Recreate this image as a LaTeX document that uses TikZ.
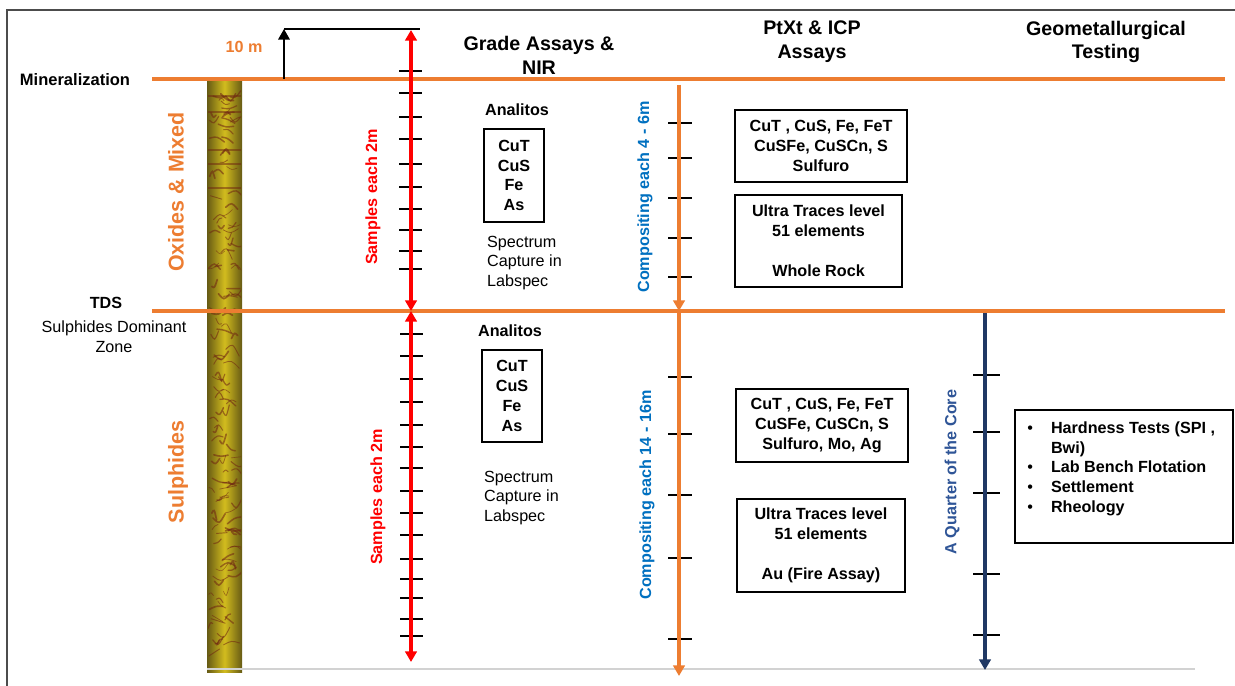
\documentclass[tikz,border=0pt]{standalone}
\usepackage{fontspec}
\setmainfont{Liberation Sans}
\usepackage{xcolor}
\usepackage{tikz}
\usetikzlibrary{arrows.meta}

\definecolor{orng}{HTML}{ED7D31}
\definecolor{compblue}{HTML}{0070C0}
\definecolor{navy}{HTML}{203864}
\definecolor{navytxt}{HTML}{2F5597}
\definecolor{coreyel}{HTML}{D2BC1E}
\definecolor{coredk}{HTML}{665A14}
\definecolor{streak}{HTML}{6E2412}

\tikzset{
  body/.style={font=\fontsize{9.2}{11.3}\selectfont\bfseries, align=center},
  plain/.style={font=\fontsize{9.2}{11.3}\selectfont},
  head/.style={font=\fontsize{11.2}{13.6}\selectfont\bfseries, align=center},
  zone/.style={font=\fontsize{12.2}{14}\selectfont\bfseries, text=orng, rotate=90},
  sidelab/.style={font=\fontsize{9.2}{11}\selectfont\bfseries, rotate=90},
  elembox/.style={draw, line width=0.9pt, body, inner sep=0pt},
  level/.style={orng, line width=2.2pt},
  hd/.tip={Triangle[length=6pt, width=6.5pt]},
}

\begin{document}
\begin{tikzpicture}[x=0.02cm, y=-0.02cm]
        \useasboundingbox (0,0) rectangle (1235,686);
        \fill[white] (0,0) rectangle (1235,686);
        \draw[gray!60!black, line width=0.9pt] (7,686) -- (7,10) -- (1235,10); % frame

        % drill core
        \shade[left color=coredk, right color=coredk, middle color=coreyel] (207,80) rectangle (242,672);
        \begin{scope}
            \clip (208,80) rectangle (241,672);
            \pgfmathsetseed{12}
            \foreach \k in {1,...,140} {
                \pgfmathsetmacro{\yy}{90+rnd*575}
                \pgfmathsetmacro{\xa}{208+rnd*24}
                \pgfmathsetmacro{\xb}{\xa+4+rnd*12}
                \pgfmathsetmacro{\xm}{(\xa+\xb)/2}
                \pgfmathsetmacro{\ya}{\yy+rand*7}
                \pgfmathsetmacro{\yb}{\yy+rand*7}
                \pgfmathsetmacro{\lw}{0.3+rnd*0.7}
                \draw[streak, line width=\lw pt, opacity=0.55, line cap=round] (\xa,\yy) .. controls (\xm,\ya) .. (\xb,\yb);
            }
            \foreach \y in {96,112,150,164,188} % bands in oxides
                \draw[streak, line width=0.8pt, opacity=0.5] (208,\y) -- (241,\y);
        \end{scope}
        \draw[gray!35, line width=1pt] (207,669) -- (1195,669);

        % levels
        \coordinate (minl) at (152,79);
        \coordinate (minr) at (1225,79);
        \coordinate (tdsl) at (152,311);
        \coordinate (tdsr) at (1225,311);
        \draw[level] (minl) -- (minr);
        \draw[level] (tdsl) -- (tdsr);

        \node[font=\fontsize{9.4}{11}\selectfont\bfseries] (minlab) at (75,80) {Mineralization};
        \node[body] (tds) at (106,303) {TDS};
        \node[plain, align=center] (sdz) at (114,337) {Sulphides Dominant\\Zone};
        \node[zone] (oxlab) at (176,192) {Oxides \& Mixed};
        \node[zone] (sulab) at (178,472) {Sulphides};

        % 10 m mark
        \node[body, text=orng] (tenm) at (244,47) {10 m};
        \coordinate (tenbot) at (284,79);
        \coordinate (tentop) at (284,29);
        \coordinate (tenend) at (420,29);
        \draw[line width=1pt, -hd] (tenbot) -- (tentop);
        \draw[line width=1pt] (tentop) -- (tenend);

        % samples each 2m
        \coordinate (sa) at (411,30);
        \coordinate (sb) at (411,311);
        \coordinate (sc) at (411,662);
        \foreach \y in {71,93,117,139,164,187,209,230,251,269}
            \draw[line width=1.1pt] (399,\y) -- (422,\y);
        \foreach \y in {334,356,379,402,425,447,468,491,513,535,559,579,598,619,636}
            \draw[line width=1.1pt] (400,\y) -- (423,\y);
        \draw[red, line width=2.1pt, hd-hd] (sa) -- (sb);
        \draw[red, line width=2.1pt, hd-hd] (sb) -- (sc);
        \node[sidelab, text=red] (samp1) at (373,197) {Samples each 2m};
        \node[sidelab, text=red] (samp2) at (378,497) {Samples each 2m};

        % headers
        \node[head] (gradehd) at (539,55) {Grade Assays \&\\NIR};
        \node[head] (icphd) at (812,42) {PtXt \& ICP\\Assays};
        \node[head] (geohd) at (1106,42) {Geometallurgical\\Testing};

        % grade assays
        \node[body] (anal1) at (517,110) {Analitos};
        \node[elembox, minimum width=1.2cm, minimum height=1.86cm] (elem1) at (514,175.5) {CuT\\CuS\\Fe\\As};
        \node[plain, align=left, anchor=west] (spec1) at (481,263) {Spectrum\\Capture in\\Labspec};
        \node[body] (anal2) at (510,331) {Analitos};
        \node[elembox, minimum width=1.2cm, minimum height=1.84cm] (elem2) at (512,396) {CuT\\CuS\\Fe\\As};
        \node[plain, align=left, anchor=west] (spec2) at (478,498) {Spectrum\\Capture in\\Labspec};

        % compositing
        \coordinate (ca) at (679,85);
        \coordinate (cb) at (679,311);
        \coordinate (cc) at (679,676);
        \foreach \y in {123,158,198,238,277}
            \draw[line width=1.1pt] (668,\y) -- (692,\y);
        \foreach \y in {377,434,495,558,639}
            \draw[line width=1.1pt] (668,\y) -- (692,\y);
        \draw[orng, line width=1.9pt, -hd] (ca) -- (cb);
        \draw[orng, line width=1.9pt, -hd] (cb) -- (cc);
        \node[sidelab, text=compblue] (comp1) at (645,197) {Compositing each 4 - 6m};
        \node[sidelab, text=compblue] (comp2) at (647,495) {Compositing each 14 - 16m};

        % PtXt & ICP
        \node[elembox, minimum width=3.44cm, minimum height=1.44cm] (icp1) at (821,146) {CuT , CuS, Fe, FeT\\CuSFe, CuSCn, S\\Sulfuro};
        \node[elembox, minimum width=3.34cm, minimum height=1.84cm] (icp2) at (818.5,241) {Ultra Traces level\\51 elements\\[11.3pt]Whole Rock};
        \node[elembox, minimum width=3.44cm, minimum height=1.46cm] (icp3) at (822,425.5) {CuT , CuS, Fe, FeT\\CuSFe, CuSCn, S\\Sulfuro, Mo, Ag};
        \node[elembox, minimum width=3.36cm, minimum height=1.86cm] (icp4) at (821,545.5) {Ultra Traces level\\51 elements\\[11.3pt]Au (Fire Assay)};

        % quarter core
        \coordinate (qa) at (985,313);
        \coordinate (qb) at (985,670);
        \foreach \y in {375,432,493,574,635}
            \draw[line width=1.1pt] (973,\y) -- (1000,\y);
        \draw[navy, line width=2pt, -hd] (qa) -- (qb);
        \node[sidelab, text=navytxt] (quart) at (952,472) {A Quarter of the Core};

        % geometallurgical tests
        \node[elembox, minimum width=4.36cm, minimum height=2.66cm] (geobox) at (1124,476.5) {};
        \node[body, align=left, anchor=north west, inner sep=0pt] (geolist) at (1027,419) {%
            \begin{tabular}{@{}l@{\hspace{0.36cm}}l@{}}
            {\mdseries\textbullet} & Hardness Tests (SPI ,\\
             & Bwi)\\
            {\mdseries\textbullet} & Lab Bench Flotation\\
            {\mdseries\textbullet} & Settlement\\
            {\mdseries\textbullet} & Rheology
            \end{tabular}};
    \end{tikzpicture}
\end{document}
